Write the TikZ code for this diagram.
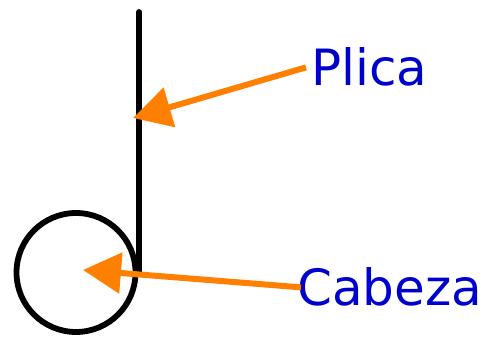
\documentclass[tikz,border=0pt]{standalone}
\usepackage{fontspec}
\setmainfont{DejaVu Sans}
\usetikzlibrary{arrows.meta}
\definecolor{lblue}{RGB}{0,0,204}
\definecolor{lorange}{RGB}{255,128,0}
\tikzset{
  label text/.style={text=lblue, font=\fontsize{50}{55}\selectfont, inner sep=0pt},
  pointer/.style={draw=lorange, line width=6pt, -{Triangle[length=38pt, width=40pt]}},
  notestroke/.style={line width=5.8pt, black}
}
\begin{document}
\begin{tikzpicture}[x=1pt,y=1pt]
\useasboundingbox (0,0) rectangle (487,337);
% stem and head
\draw[notestroke, line cap=round] (139,325) -- (139,65);
\draw[notestroke] (76,64.5) circle (59.5);
\coordinate (stemtarget) at (133,219);
\coordinate (headtarget) at (83,67);
\node[label text, anchor=base west] (plica) at (311,251) {Plica};
\node[label text, anchor=base west] (cabeza) at (297,31) {Cabeza};
\draw[pointer] ([xshift=-5pt]plica.west) -- (stemtarget);
\draw[pointer] ([xshift=4pt]cabeza.west) -- (headtarget);
\end{tikzpicture}
\end{document}
